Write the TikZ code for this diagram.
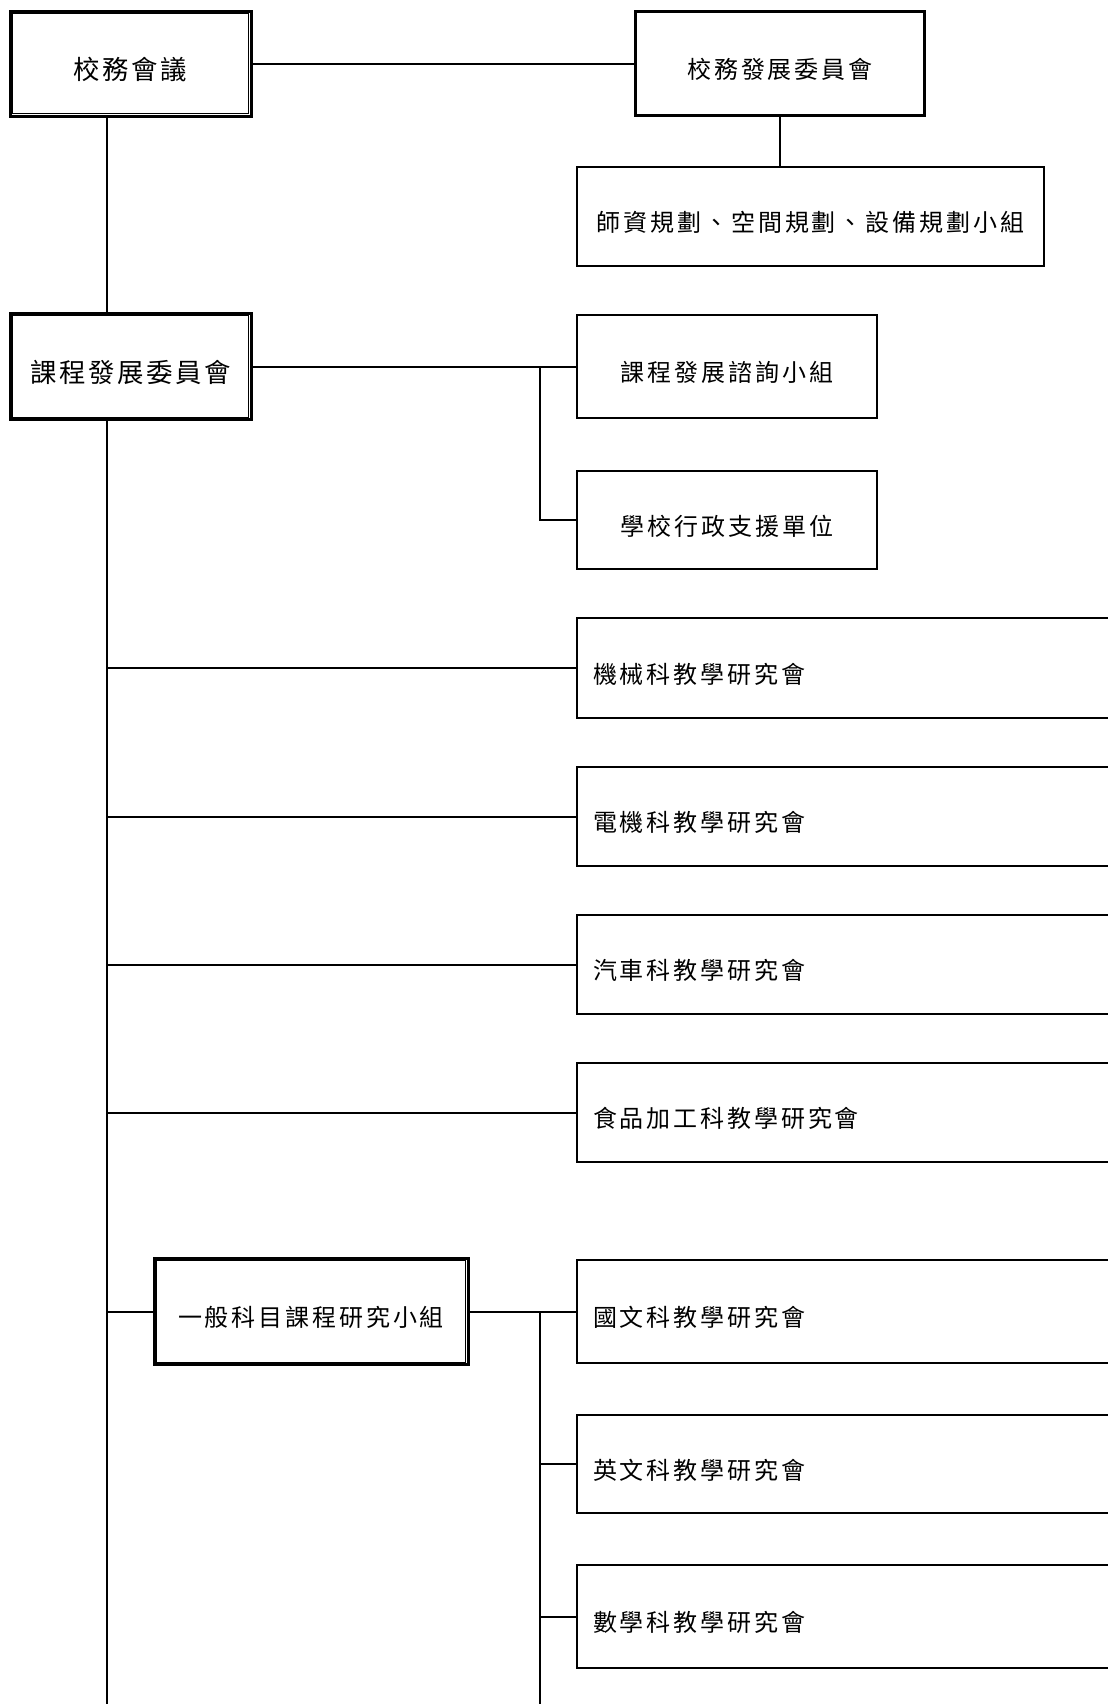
\documentclass[tikz,border=0pt]{standalone}
\usepackage{fontspec}
\newfontfamily\cjk[LetterSpace=12]{Noto Sans CJK TC}
\newfontfamily\cjkbig[LetterSpace=10]{Noto Sans CJK TC}
\newcommand\lowtxt[1]{\raisebox{-3pt}[\height][\depth]{#1}}
\begin{document}
\begin{tikzpicture}[x=0.5pt,y=-0.5pt,
  conn/.style={line width=1pt},
  box/.style={draw, line width=1.3pt, inner sep=0pt, fill=white,
    font=\fontsize{12pt}{14pt}\cjk},
  bigbox/.style={draw, line width=1.5pt, inner sep=0pt, fill=white,
    font=\fontsize{13.2pt}{16pt}\cjkbig},
  wide/.style={box, minimum width=286.5pt, inner xsep=8pt, text width=270.5pt, align=left},
  innerline/.style={line width=0.6pt}]
\useasboundingbox (0,0) rectangle (1108,1704);
\clip (0,0) rectangle (1108,1704);
\coordinate (vx) at (106.5,0);
\coordinate (bx) at (540,0);
\coordinate (bot) at (0,1710);

% nodes
\node[bigbox, minimum width=120.5pt, minimum height=52.5pt] (A) at (130.5,63.5) {\lowtxt{校務會議}};
\node[box, minimum width=144.5pt, minimum height=52pt] (B) at (780,63.5) {\lowtxt{校務發展委員會}};
\node[box, minimum width=233.5pt, minimum height=49.5pt] (C) at (810.5,216.5) {\lowtxt{師資規劃、空間規劃、設備規劃小組}};
\node[bigbox, minimum width=120.5pt, minimum height=53pt] (D) at (130.5,366.5) {\lowtxt{課程發展委員會}};
\node[box, minimum width=150pt, minimum height=51.5pt] (E) at (727,366.5) {\lowtxt{課程發展諮詢小組}};
\node[box, minimum width=150pt, minimum height=49pt] (F) at (727,520) {\lowtxt{學校行政支援單位}};
\node[wide, minimum height=50pt] (G) at (863.5,668) {\lowtxt{機械科教學研究會}};
\node[wide, minimum height=49.5pt] (H) at (863.5,816.5) {\lowtxt{電機科教學研究會}};
\node[wide, minimum height=49.5pt] (I) at (863.5,964.5) {\lowtxt{汽車科教學研究會}};
\node[wide, minimum height=49.5pt] (J) at (863.5,1112.5) {\lowtxt{食品加工科教學研究會}};
\node[bigbox, font=\fontsize{12pt}{14pt}\cjk, minimum width=157pt, minimum height=53pt] (K) at (311,1311.5) {\lowtxt{一般科目課程研究小組}};
\node[wide, minimum height=51.5pt] (L) at (863.5,1311.5) {\lowtxt{國文科教學研究會}};
\node[wide, minimum height=49pt] (M) at (863.5,1464) {\lowtxt{英文科教學研究會}};
\node[wide, minimum height=51.5pt] (N) at (863.5,1616.5) {\lowtxt{數學科教學研究會}};

% inner thin lines of double boxes
\foreach \n in {A,D,K}{
  \draw[innerline] ([shift={(1.9pt,-1.9pt)}]\n.north west) rectangle ([shift={(-1.9pt,1.9pt)}]\n.south east);
}

% connectors
\draw[conn] (A.east) -- (B.west);
\draw[conn] (B.south) -- (B.south |- C.north);
\draw[conn] (A.south -| vx) -- (D.north -| vx);
\draw[conn] (D.south -| vx) -- (vx |- bot);
\draw[conn] (D.east) -- (E.west);
\draw[conn] (bx |- E.west) -- (bx |- F.west) -- (F.west);
\draw[conn] (vx |- G.west) -- (G.west);
\draw[conn] (vx |- H.west) -- (H.west);
\draw[conn] (vx |- I.west) -- (I.west);
\draw[conn] (vx |- J.west) -- (J.west);
\draw[conn] (vx |- K.west) -- (K.west);
\draw[conn] (K.east) -- (L.west);
\draw[conn] (bx |- L.west) -- (bx |- bot);
\draw[conn] (bx |- M.west) -- (M.west);
\draw[conn] (bx |- N.west) -- (N.west);
\end{tikzpicture}
\end{document}
